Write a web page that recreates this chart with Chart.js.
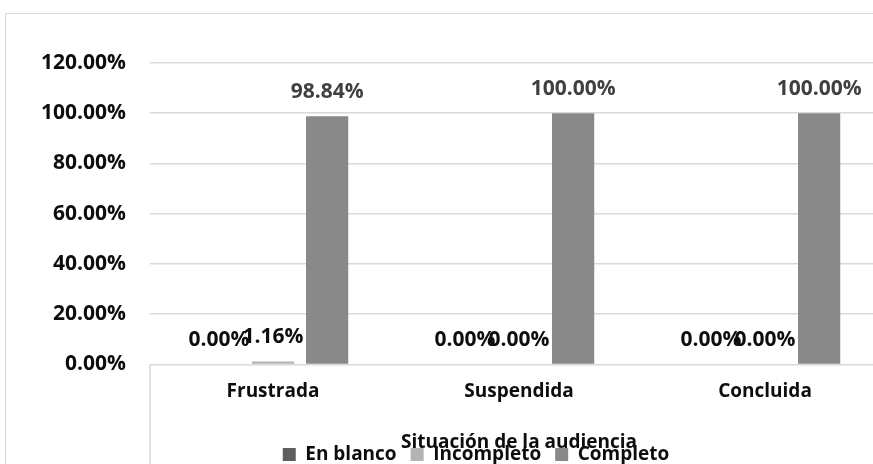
<!DOCTYPE html>
<html>
<head>
<meta charset="utf-8">
<script src="https://cdn.jsdelivr.net/npm/chart.js@4/dist/chart.umd.min.js"></script>
<style>
  html, body { margin: 0; padding: 0; background: #fff; overflow: hidden; width: 873px; height: 464px; }
  #box { position: absolute; left: 5px; top: 13px; border: 1px solid #d9d9d9; }
  canvas { display: block; }
</style>
</head>
<body>
<div id="box"><canvas id="chart" width="938" height="460"></canvas></div>
<script>
const categories = ['Frustrada', 'Suspendida', 'Concluida'];
const enBlanco = [0, 0, 0];
const incompleto = [1.16, 0, 0];
const completo = [98.84, 100, 100];
const seriesNames = ['En blanco', 'Incompleto', 'Completo'];
const axisTitle = 'Situación de la audiencia';

const FONT = '"Open Sans", Lato, sans-serif';

// value labels above each bar
const barLabels = {
    id: 'barLabels',
    afterDatasetsDraw(chart) {
        const ctx = chart.ctx;
        ctx.save();
        ctx.font = 'bold 21px ' + FONT;
        ctx.textAlign = 'center';
        ctx.textBaseline = 'middle';
        chart.data.datasets.forEach((ds, i) => {
            const meta = chart.getDatasetMeta(i);
            ctx.fillStyle = ds.labelColor;
            meta.data.forEach((bar, j) => {
                ctx.fillText(ds.data[j].toFixed(2) + '%', bar.x, bar.y - 24);
            });
        });
        ctx.restore();
    }
};

// the little line under the left edge of the category axis,
// and nudge the legend a bit to the right like the original
const leftEdge = {
    id: 'leftEdge',
    afterLayout(chart) {
        chart.legend.left += 24;
    },
    afterDraw(chart) {
        const ctx = chart.ctx;
        const a = chart.chartArea;
        ctx.save();
        ctx.strokeStyle = '#d9d9d9';
        ctx.lineWidth = 1.5;
        ctx.beginPath();
        ctx.moveTo(a.left, a.bottom);
        ctx.lineTo(a.left, chart.height);
        ctx.stroke();
        ctx.restore();
    }
};

new Chart(document.getElementById('chart'), {
    type: 'bar',
    data: {
        labels: categories,
        datasets: [
            { label: seriesNames[0], data: enBlanco, backgroundColor: '#5f5f5f', labelColor: '#0d0d0d' },
            { label: seriesNames[1], data: incompleto, backgroundColor: '#b3b3b3', labelColor: '#0d0d0d' },
            { label: seriesNames[2], data: completo, backgroundColor: '#898989', labelColor: '#404040' }
        ]
    },
    options: {
        responsive: false,
        animation: false,
        devicePixelRatio: 1,
        layout: { padding: { top: 49, right: 56, left: 34, bottom: 0 } },
        datasets: {
            bar: { barPercentage: 0.78, categoryPercentage: 0.66 }
        },
        plugins: {
            tooltip: { enabled: false },
            legend: {
                position: 'bottom',
                labels: {
                    font: { family: FONT, size: 19, weight: 'bold' },
                    color: '#0d0d0d',
                    boxWidth: 13,
                    boxHeight: 13,
                    padding: 14
                }
            }
        },
        scales: {
            x: {
                grid: { display: false },
                border: { display: false },
                ticks: {
                    font: { family: FONT, size: 19, weight: 'bold' },
                    color: '#0d0d0d',
                    padding: 8,
                    maxRotation: 0
                },
                title: {
                    display: true,
                    text: axisTitle,
                    font: { family: FONT, size: 19, weight: 'bold' },
                    color: '#0d0d0d',
                    padding: { top: 20, bottom: -23 }
                }
            },
            y: {
                min: 0,
                max: 120,
                afterFit: (s) => { s.width = 110; },
                grid: { color: '#d9d9d9', lineWidth: 1.5, drawTicks: false },
                border: { display: false },
                ticks: {
                    stepSize: 20,
                    padding: 24,
                    font: { family: FONT, size: 21, weight: 'bold' },
                    color: '#0d0d0d',
                    callback: (v) => v.toFixed(2) + '%'
                }
            }
        }
    },
    plugins: [barLabels, leftEdge]
});
</script>
</body>
</html>
